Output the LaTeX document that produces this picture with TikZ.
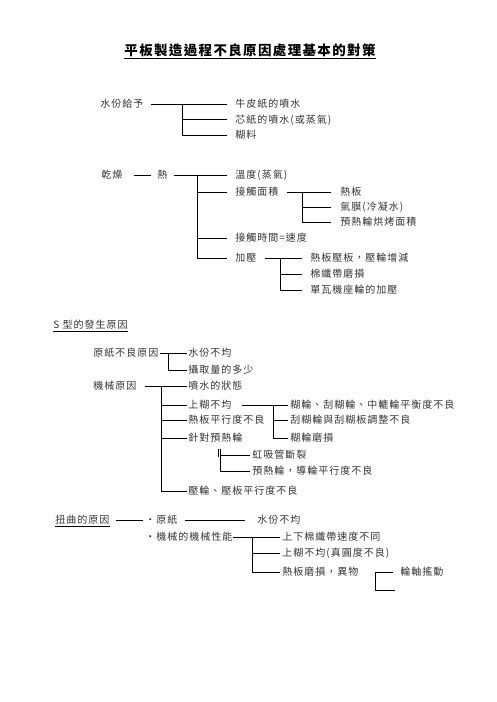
\documentclass[tikz,border=0pt]{standalone}
\usepackage{fontspec}
\setmainfont{Noto Sans CJK TC}[LetterSpace=10]
\begin{document}
\begin{tikzpicture}[x=1pt,y=-1pt,line width=0.8pt,
        lbl/.style={anchor=west, inner xsep=#1, inner ysep=1pt, text height=8.8pt, text depth=1.2pt,
            font=\fontsize{10}{12}\selectfont, text=black!80},
        lbl/.default=8pt]
        \useasboundingbox (0,0) rectangle (496,702);

        % title
        \node[font=\fontsize{13.5}{16}\selectfont\bfseries, inner sep=0pt, text height=11.9pt, text depth=1.6pt] (title) at (250,50) {平板製造過程不良原因處理基本的對策};
        \draw ([yshift=-1.5pt]title.south west) -- ([yshift=-1.5pt]title.south east);

        % water
        \node[lbl=7pt] (water) at (93,104) {水份給予};
        \node[lbl] (kraft) at (227,104) {牛皮紙的噴水};
        \node[lbl] (core) at (227,119.5) {芯紙的噴水(或蒸氣)};
        \node[lbl] (glue) at (227,135) {糊料};
        \coordinate (w1) at (182,104);
        \draw (water.east) -- (kraft.west);
        \draw (w1 |- core.west) -- (core.west);
        \draw (w1) |- (glue.west);

        % drying
        \node[lbl=11pt] (dry) at (90,175) {乾燥};
        \node[lbl=6pt] (heat) at (151,175) {熱};
        \node[lbl] (temp) at (227,175) {溫度(蒸氣)};
        \node[lbl] (contact) at (227,192) {接觸面積};
        \node[lbl] (ctime) at (227,238) {接觸時間=速度};
        \node[lbl] (press) at (227,258) {加壓};
        \coordinate (h1) at (197,175);
        \draw (dry.east) -- (heat.west);
        \draw (heat.east) -- (temp.west);
        \draw (h1 |- contact.west) -- (contact.west);
        \draw (h1 |- ctime.west) -- (ctime.west);
        \draw (h1) |- (press.west);

        \node[lbl=9pt] (hotplate) at (331,192) {熱板};
        \node[lbl=9pt] (film) at (331,207) {氣膜(冷凝水)};
        \node[lbl=9pt] (preheat) at (331,222) {預熱輪烘烤面積};
        \coordinate (c1) at (302,192);
        \draw (contact.east) -- (hotplate.west);
        \draw (c1 |- film.west) -- (film.west);
        \draw (c1) |- (preheat.west);

        \node[lbl] (pplate) at (302,258) {熱板壓板，壓輪增減};
        \node[lbl] (belt) at (302,274) {棉纖帶磨損};
        \node[lbl] (seat) at (302,290) {單瓦機座輪的加壓};
        \coordinate (p1) at (280,258);
        \draw (press.east) -- (pplate.west);
        \draw (p1 |- belt.west) -- (belt.west);
        \draw (p1) |- (seat.west);

        % S shape
        \node[lbl=0pt] (stitle) at (53,325) {S 型的發生原因};
        \draw (stitle.south west) -- (stitle.south east);

        \node[lbl=1pt] (raw) at (92,353) {原紙不良原因};
        \node[lbl=1pt] (moist) at (187,353) {水份不均};
        \node[lbl=1pt] (intake) at (187,370) {攝取量的多少};
        \coordinate (r1) at (168,353);
        \draw (raw.east) -- (moist.west);
        \draw (r1) |- (intake.west);

        \node[lbl=8pt] (mech) at (85,386) {機械原因};
        \node[lbl=1pt] (spray) at (187,386) {噴水的狀態};
        \node[lbl=1pt] (uneven) at (187,405) {上糊不均};
        \node[lbl=1pt] (flat) at (187,420) {熱板平行度不良};
        \node[lbl=1pt] (pre) at (187,438) {針對預熱輪};
        \node[lbl=1pt] (roll) at (187,491) {壓輪、壓板平行度不良};
        \coordinate (m1) at (161,386);
        \draw (mech.east) -- (spray.west);
        \draw (m1 |- uneven.west) -- (uneven.west);
        \draw (m1 |- flat.west) -- (flat.west);
        \draw (m1 |- pre.west) -- (pre.west);
        \draw (m1) |- (roll.west);

        \node[lbl=2pt] (gwheel) at (288,405) {糊輪、刮糊輪、中轆輪平衡度不良};
        \node[lbl=2pt] (scrape) at (288,420) {刮糊輪與刮糊板調整不良};
        \node[lbl=2pt] (gwear) at (288,438) {糊輪磨損};
        \coordinate (u1) at (273,405);
        \draw ([xshift=9pt]uneven.east) -- (gwheel.west);
        \draw (u1 |- scrape.west) -- (scrape.west);
        \draw (u1) |- (gwear.west);

        \node[lbl=2pt] (siphon) at (250,455) {虹吸管斷裂};
        \node[lbl=2pt] (guide) at (250,471) {預熱輪，導輪平行度不良};
        \coordinate (q1) at (220,449);
        \draw (q1 |- siphon.west) -- (siphon.west);
        \draw (q1) |- (guide.west);
        \draw (218,449) -- (218,457);

        % twist
        \node[lbl=0pt] (twist) at (55,520) {扭曲的原因};
        \draw (twist.south west) -- (twist.south east);
        \node[lbl=0pt] (paper) at (145,520) {・原紙};
        \node[lbl=12pt] (moist2) at (245,520) {水份不均};
        \draw ([xshift=6pt]twist.east) -- ([xshift=-2pt]paper.west);
        \draw ([xshift=7pt]paper.east) -- (moist2.west);

        \node[lbl=0pt] (mach) at (145,537) {・機械的機械性能};
        \node[lbl=2pt] (speed) at (280,537) {上下棉纖帶速度不同};
        \node[lbl=2pt] (round) at (280,553) {上糊不均(真圓度不良)};
        \node[lbl=2pt] (abrade) at (280,572) {熱板磨損，異物};
        \coordinate (k1) at (252,537);
        \draw (mach.east) -- (speed.west);
        \draw (k1 |- round.west) -- (round.west);
        \draw (k1) |- (abrade.west);

        \node[lbl=7pt] (shaft) at (393,572) {輪軸搖動};
        \coordinate (s1) at (375,572);
        \coordinate (s2) at (395,590);
        \draw (s1) -- (shaft.west);
        \draw (s1) |- (s2);
    \end{tikzpicture}
\end{document}
